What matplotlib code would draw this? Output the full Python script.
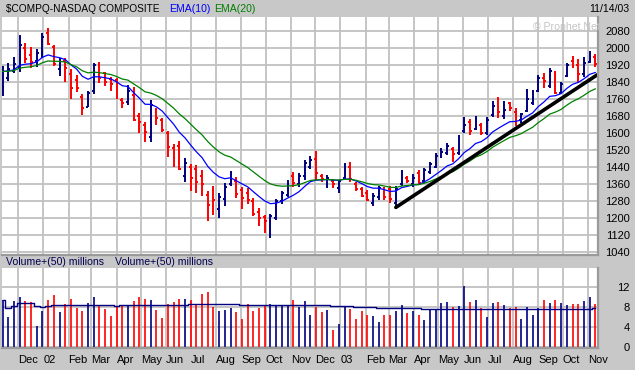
import numpy as np
import pandas as pd
import matplotlib
matplotlib.use("Agg")
import matplotlib.pyplot as plt
import matplotlib.dates as mdates
from matplotlib.ticker import FuncFormatter

plt.rcParams['font.family'] = ['Liberation Sans', 'DejaVu Sans']

# weekly bars, one per week (monday of the week)
weeks = pd.date_range("2001-11-12", "2003-11-10", freq="W-MON")

opens = [1821, 1860, 1890, 1910, 1999, 1967, 1940, 1970, 2069, 2003,
         1900, 1940, 1880, 1850, 1770, 1724, 1800, 1917, 1881, 1855,
         1850, 1755, 1745, 1780, 1680, 1640, 1580, 1700, 1660, 1600,
         1530, 1540, 1400, 1440, 1430, 1400, 1310, 1330, 1242, 1289,
         1360, 1374, 1330, 1320, 1280, 1230, 1205, 1140, 1200, 1280,
         1310, 1400, 1360, 1400, 1440, 1480, 1400, 1360, 1375, 1340,
         1390, 1440, 1360, 1335, 1320, 1270, 1300, 1338, 1335, 1270,
         1360, 1390, 1360, 1410, 1375, 1415, 1440, 1490, 1505, 1525,
         1505, 1610, 1650, 1620, 1640, 1600, 1685, 1740, 1680, 1740,
         1700, 1660, 1705, 1740, 1800, 1860, 1820, 1880, 1790, 1870,
         1940, 1920, 1880, 1935, 1960]
highs = [1915, 1928, 1956, 2061, 2025, 2003, 1994, 2071, 2093, 2014,
         1954, 1951, 1900, 1873, 1784, 1798, 1931, 1936, 1888, 1862,
         1857, 1765, 1826, 1817, 1694, 1652, 1755, 1718, 1671, 1609,
         1548, 1562, 1482, 1454, 1449, 1426, 1327, 1351, 1318, 1365,
         1421, 1393, 1346, 1341, 1294, 1247, 1214, 1219, 1289, 1327,
         1379, 1416, 1412, 1473, 1492, 1515, 1407, 1402, 1382, 1379,
         1457, 1465, 1371, 1344, 1332, 1316, 1351, 1344, 1351, 1351,
         1426, 1398, 1407, 1426, 1434, 1465, 1504, 1528, 1552, 1536,
         1591, 1677, 1664, 1680, 1646, 1677, 1752, 1768, 1752, 1747,
         1716, 1696, 1806, 1802, 1873, 1884, 1904, 1893, 1841, 1931,
         1962, 1947, 1959, 1987, 1972]
lows = [1774, 1845, 1881, 1888, 1928, 1907, 1912, 1951, 2014, 1915,
        1870, 1841, 1760, 1792, 1685, 1721, 1784, 1837, 1823, 1799,
        1760, 1716, 1730, 1657, 1600, 1558, 1558, 1638, 1605, 1487,
        1440, 1426, 1369, 1327, 1318, 1304, 1186, 1214, 1200, 1256,
        1351, 1294, 1242, 1266, 1209, 1162, 1131, 1106, 1191, 1266,
        1299, 1346, 1346, 1380, 1430, 1379, 1371, 1340, 1340, 1319,
        1379, 1371, 1328, 1297, 1280, 1256, 1285, 1285, 1272, 1246,
        1351, 1363, 1344, 1355, 1366, 1407, 1434, 1481, 1496, 1465,
        1496, 1599, 1591, 1614, 1591, 1591, 1677, 1669, 1666, 1705,
        1633, 1649, 1700, 1732, 1794, 1810, 1810, 1784, 1784, 1865,
        1904, 1841, 1865, 1928, 1912]
closes = [1890, 1900, 1923, 2014, 1948, 1936, 1975, 2053, 2017, 1925,
          1931, 1904, 1810, 1810, 1716, 1790, 1920, 1860, 1841, 1830,
          1780, 1740, 1800, 1661, 1650, 1605, 1732, 1671, 1614, 1534,
          1506, 1431, 1459, 1390, 1369, 1360, 1260, 1285, 1300, 1345,
          1410, 1313, 1295, 1285, 1219, 1200, 1186, 1210, 1280, 1320,
          1360, 1366, 1400, 1460, 1473, 1410, 1385, 1390, 1362, 1375,
          1410, 1385, 1335, 1306, 1285, 1306, 1340, 1300, 1290, 1335,
          1415, 1375, 1390, 1365, 1424, 1455, 1492, 1510, 1540, 1500,
          1585, 1640, 1610, 1660, 1600, 1661, 1727, 1700, 1710, 1720,
          1661, 1690, 1760, 1765, 1858, 1846, 1890, 1790, 1830, 1920,
          1915, 1880, 1930, 1970, 1925]
# volume, hundreds of millions
volume = [9.4, 6.1, 9.3, 10.1, 9.3, 9.1, 4.2, 7.3, 9.4, 10.4,
          7.1, 8.6, 9.6, 7.9, 7.2, 8.9, 10.1, 8.4, 7.6, 6.3,
          8.0, 8.4, 8.4, 9.3, 10.1, 9.6, 9.4, 7.5, 5.9, 8.6,
          9.1, 9.7, 9.6, 9.4, 8.6, 10.6, 11.1, 8.0, 7.3, 7.5,
          7.9, 7.1, 5.7, 8.6, 7.2, 7.9, 8.4, 8.6, 8.2, 8.4,
          8.4, 9.4, 8.0, 9.2, 6.4, 8.1, 7.1, 7.4, 3.4, 4.6,
          8.3, 7.7, 5.7, 7.2, 6.4, 6.2, 5.1, 6.4, 6.4, 7.2,
          8.4, 6.9, 7.2, 6.4, 5.4, 7.5, 7.5, 8.9, 9.1, 8.1,
          8.3, 12.2, 9.1, 9.4, 7.8, 6.1, 8.9, 9.1, 8.4, 7.8,
          8.0, 5.7, 8.0, 6.4, 7.8, 9.4, 8.9, 9.4, 8.9, 8.4,
          8.6, 8.6, 9.2, 10.1, 8.6]

trend_dates = ["2003-03-10", "2003-11-14"]
trend_vals = [1250, 1878]

price_ticks = list(range(1040, 2081, 80))
vol_ticks = [0, 4, 8, 12]

NAVY = '#000080'
RED = '#ff0000'
BG = '#c8c8c8'
GRID = '#c0c0c0'

df = pd.DataFrame({'o': opens, 'h': highs, 'l': lows, 'c': closes, 'v': volume}, index=weeks)
df['ema10'] = df['c'].ewm(span=10, adjust=False).mean()
df['ema20'] = df['c'].ewm(span=20, adjust=False).mean()
df['vma'] = df['v'].rolling(50, min_periods=1).mean()
cols = [NAVY if c >= o else RED for o, c in zip(df['o'], df['c'])]

x = mdates.date2num(df.index.to_pydatetime())
tick = 2.3  # days

W, H = 635, 370
fig = plt.figure(figsize=(W/100, H/100), dpi=100, facecolor=BG)
ax1 = fig.add_axes([2/W, 115/H, 596/W, 238/H])
ax2 = fig.add_axes([2/W, 22/H, 596/W, 80/H])

xmin = x[0] - 0.7
xmax = x[0] + 731.3

for ax in (ax1, ax2):
    ax.set_facecolor('white')
    ax.set_xlim(xmin, xmax)
    ax.grid(True, color=GRID, lw=1.3)
    ax.set_axisbelow(True)
    for s in ('top', 'left'):
        ax.spines[s].set_visible(False)
    for s in ('right', 'bottom'):
        ax.spines[s].set_color('#9a9a9a')
        ax.spines[s].set_linewidth(1.6)
    ax.xaxis.set_major_locator(mdates.MonthLocator())
    ax.yaxis.tick_right()
    ax.tick_params(length=0, labelsize=8, colors='black')

# price panel
ax1.vlines(x, df['l'], df['h'], colors=cols, lw=1.4)
ax1.hlines(df['o'], x - tick, x, colors=cols, lw=1.4)
ax1.hlines(df['c'], x, x + tick, colors=cols, lw=1.4)
ax1.plot(x, df['ema10'], color='#0000ff', lw=0.9)
ax1.plot(x, df['ema20'], color='#008000', lw=0.9)
ax1.plot(mdates.datestr2num(trend_dates), trend_vals, color='black', lw=2.6,
         solid_capstyle='round')
ax1.set_ylim(1026, 2146)
ax1.set_yticks(price_ticks)
ax1.tick_params(axis='y', pad=23)
ax1.set_xticklabels([])
for lbl in ax1.get_yticklabels():
    lbl.set_ha('right')

# volume panel
ax2.vlines(x, 0, df['v'], colors=cols, lw=1.2)
ax2.plot(x, df['vma'], color=NAVY, lw=1.0, drawstyle='steps-mid')
ax2.set_ylim(-0.2, 15.8)
ax2.set_yticks(vol_ticks)
ax2.tick_params(axis='y', pad=23)
for lbl in ax2.get_yticklabels():
    lbl.set_ha('right')


def month_label(v, pos=None):
    d = mdates.num2date(v)
    return d.strftime('%y') if d.month == 1 else d.strftime('%b')


ax2.xaxis.set_major_formatter(FuncFormatter(month_label))
ax2.tick_params(axis='x', pad=5)
for lbl in ax2.get_xticklabels():
    lbl.set_ha('left')

# header texts
def ftext(px, py, s, size=7.6, **kw):
    fig.text(px/W, 1 - py/H, s, va='center', fontsize=size, **kw)

ftext(6, 8.5, "$COMPQ-NASDAQ COMPOSITE", size=7.3, color='black')
ftext(169, 8.5, "EMA(10)", color='#0000ff')
ftext(214, 8.5, "EMA(20)", color='#008000')
ftext(629, 8.5, "11/14/03", color='black', ha='right')
ftext(533, 27, "\u00a9 Prophet.Net", color='#c4c4c4')
ftext(6, 262, "Volume+(50) millions", color='#000050')
ftext(115, 262, "Volume+(50) millions", color='#000050')

fig.savefig('out.png', dpi=100, facecolor=BG)
